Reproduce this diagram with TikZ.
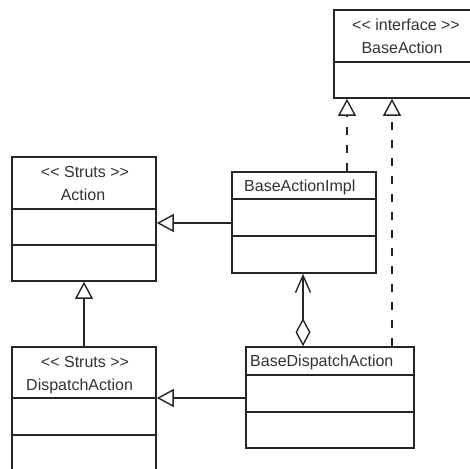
\documentclass[tikz,border=0pt]{standalone}
\usepackage{fontspec}
\setmainfont{Liberation Sans}
\usetikzlibrary{arrows.meta}
\begin{document}
\begin{tikzpicture}[x=1pt,y=-1pt,
  box/.style={draw=black!85,line width=1.6pt,inner sep=0pt,fill=white},
  div/.style={draw=black!85,line width=1.6pt},
  txt/.style={font=\fontsize{16}{18}\selectfont,text=black!80,inner sep=0pt},
  gen/.style={draw=black!85,line width=1.6pt,-{Triangle[open,length=17pt,width=18pt,line width=1.4pt,fill=white]}},
  real/.style={gen,dash pattern=on 8pt off 10pt},
  nav/.style={draw=black!85,line width=1.6pt,{Diamond[open,length=28pt,width=15pt,line width=1.4pt,fill=white]}-{Straight Barb[length=17pt,width=15pt,line width=1.4pt]}}
]
\useasboundingbox (0,0) rectangle (470,468);
\clip (0,0) rectangle (470,468);
\fill[white] (0,0) rectangle (470,468);

% BaseAction
\node[box,minimum width=150pt,minimum height=88pt] (ba) at (409,54) {};
\draw[div] (334,62) -- (484,62);
\node[txt] (baS) at (406,25) {{<}{<} interface {>}{>}};
\node[txt] (baN) at (402,48) {BaseAction};

% Action
\node[box,minimum width=144pt,minimum height=124pt] (ac) at (84,219) {};
\draw[div] (12,209) -- (156,209);
\draw[div] (12,245) -- (156,245);
\node[txt] (acS) at (85,172) {{<}{<} Struts {>}{>}};
\node[txt] (acN) at (83,195) {Action};

% BaseActionImpl
\node[box,minimum width=144pt,minimum height=101pt] (bi) at (304,222.5) {};
\draw[div] (232,199) -- (376,199);
\draw[div] (232,236) -- (376,236);
\node[txt,anchor=west] (biN) at (244,187) {BaseActionImpl};

% DispatchAction
\node[box,minimum width=144pt,minimum height=140pt] (da) at (84,417) {};
\draw[div] (12,398) -- (156,398);
\draw[div] (12,435) -- (156,435);
\node[txt] (daS) at (85,362) {{<}{<} Struts {>}{>}};
\node[txt,anchor=west] (daN) at (26,386) {DispatchAction};

% BaseDispatchAction
\node[box,minimum width=168pt,minimum height=101pt] (bd) at (330,397.5) {};
\draw[div] (246,375) -- (414,375);
\draw[div] (246,412) -- (414,412);
\node[txt,anchor=west] (bdN) at (250,362) {BaseDispatchAction};

% connectors
\coordinate (r1) at (347,0);
\coordinate (r2) at (392,0);
\coordinate (nv) at (303,0);
\coordinate (ga) at (0,223);
\coordinate (gd) at (0,398);
\draw[real] (bi.north -| r1) -- (ba.south -| r1);
\draw[real] (bd.north -| r2) -- (ba.south -| r2);
\draw[gen] (bi.west |- ga) -- (ac.east |- ga);
\draw[gen] (da.north) -- (ac.south);
\draw[gen] (bd.west |- gd) -- (da.east |- gd);
\draw[nav] (bd.north -| nv) -- (bi.south -| nv);
\end{tikzpicture}
\end{document}
